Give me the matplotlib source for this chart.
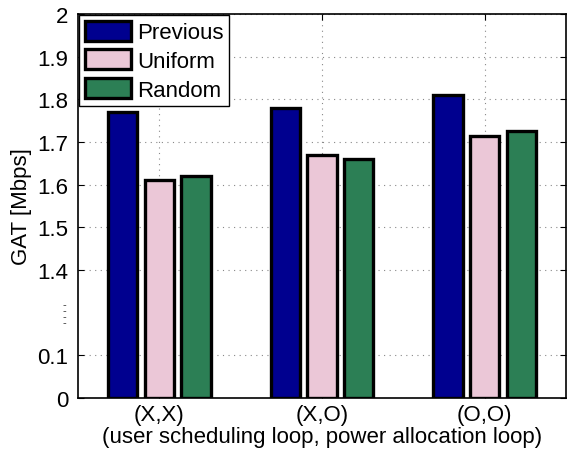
import matplotlib
matplotlib.use("Agg")
import matplotlib.pyplot as plt
import numpy as np

groups = ["(X,X)", "(X,O)", "(O,O)"]
series = ["Previous", "Uniform", "Random"]
previous = [1.77, 1.78, 1.81]
uniform = [1.61, 1.67, 1.715]
random_ = [1.62, 1.66, 1.725]
colors = ["#00008f", "#ebc7d7", "#2c7f55"]
yticks = [0, 0.1, 1.4, 1.5, 1.6, 1.7, 1.8, 1.9, 2.0]
ytick_labels = ["0", "0.1", "1.4", "1.5", "1.6", "1.7", "1.8", "1.9", "2"]


def fwd(y):
    y = np.asarray(y, dtype=float)
    return np.where(
        y <= 0.1, y * 10,
        np.where(y < 1.4, 1 + (y - 0.1) / 1.3 * 2, 3 + (y - 1.4) * 10),
    )


def inv(t):
    t = np.asarray(t, dtype=float)
    return np.where(
        t <= 1, t / 10,
        np.where(t < 3, 0.1 + (t - 1) / 2 * 1.3, 1.4 + (t - 3) / 10),
    )


plt.rcParams["font.family"] = ["Liberation Sans", "DejaVu Sans"]
plt.rcParams["font.size"] = 16

fig = plt.figure(figsize=(5.73, 4.52), dpi=100)
ax = fig.add_axes([78 / 573, 1 - 399 / 452, 488 / 573, 384 / 452])
ax.set_yscale("function", functions=(fwd, inv))

x = np.arange(1, len(groups) + 1)
offset = 0.225
width = 0.18
for i, (name, vals) in enumerate(zip(series, [previous, uniform, random_])):
    ax.bar(x + (i - 1) * offset, vals, width=width, color=colors[i],
           edgecolor="black", linewidth=2.4, label=name, zorder=3)

ax.set_xlim(0.5, 3.5)
ax.set_ylim(0, 2)
ax.set_xticks(x)
ax.set_xticklabels(groups)
ax.set_yticks(yticks)
ax.set_yticklabels(ytick_labels)
ax.minorticks_off()
ax.tick_params(direction="in", top=True, right=True, length=4, pad=7)
ax.tick_params(axis="x", pad=4)
ax.grid(True, linestyle=(0, (1, 4)), color="#888888", linewidth=0.8)
ax.set_axisbelow(True)
for s in ax.spines.values():
    s.set_linewidth(1.2)

# break marker on the y axis (0.75 sits in the compressed gap)
ax.text(-0.025, 0.75, "-\n-\n-\n-", transform=ax.get_yaxis_transform(),
        ha="right", va="center", fontsize=8, linespacing=0.5, color="#333333")

ax.set_xlabel("(user scheduling loop, power allocation loop)", labelpad=1)
ax.set_ylabel("GAT [Mbps]", labelpad=4)

leg = ax.legend(loc="upper left", fancybox=False, framealpha=1, edgecolor="black",
                borderpad=0.25, borderaxespad=0.05, labelspacing=0.28,
                handlelength=2.1, handleheight=1.0, handletextpad=0.25)
leg.get_frame().set_linewidth(1.0)

fig.savefig("out.png", dpi=100)
